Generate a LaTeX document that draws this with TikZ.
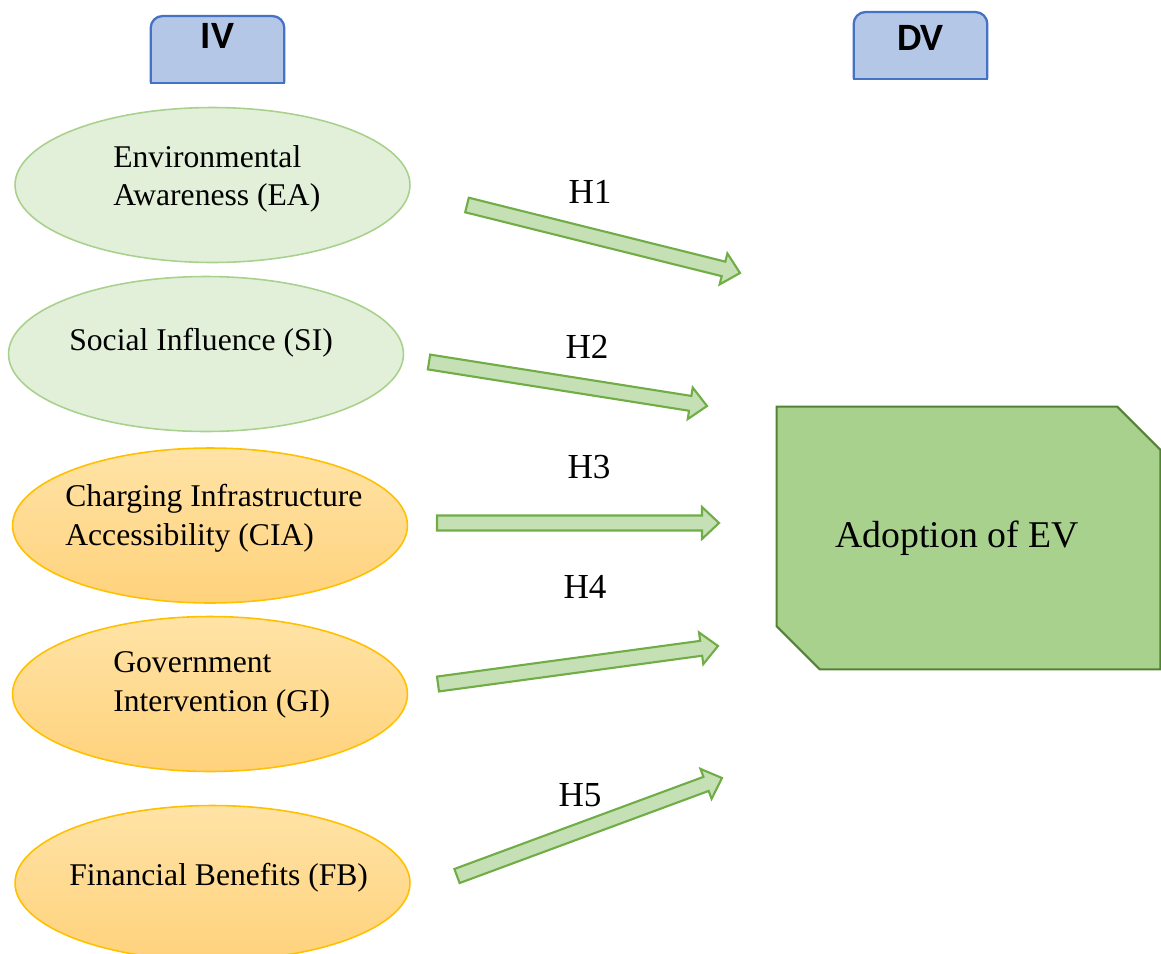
\documentclass[tikz,border=0pt]{standalone}
\usepackage{fontspec}
\setmainfont{Liberation Serif}
\newfontfamily\hdrfont{Carlito}
\usetikzlibrary{shapes.geometric,calc,backgrounds}

\definecolor{eafill}{HTML}{E2F0D9}
\definecolor{eadraw}{HTML}{A9D18E}
\definecolor{ortop}{HTML}{FFE3A6}
\definecolor{orbot}{HTML}{FFD27C}
\definecolor{ordraw}{HTML}{FFC000}
\definecolor{hdrfill}{HTML}{B4C7E7}
\definecolor{hdrdraw}{HTML}{4472C4}
\definecolor{dvfill}{HTML}{A9D18E}
\definecolor{dvdraw}{HTML}{548235}
\definecolor{arrfill}{HTML}{C5E0B4}
\definecolor{arrdraw}{HTML}{70AD47}

\tikzset{
  indep/.style={ellipse,minimum width=7.9cm,minimum height=3.1cm,inner sep=0pt,line width=0.9pt},
  greenvar/.style={indep,fill=eafill,draw=eadraw},
  orangevar/.style={indep,top color=ortop,bottom color=orbot,draw=ordraw},
  vartext/.style={anchor=west,align=left,inner sep=0pt,font=\fontsize{18}{22}\selectfont},
  hdr/.style={anchor=north,minimum width=2.66cm,inner ysep=0pt,font=\hdrfont\bfseries\fontsize{22}{22}\selectfont},
  hdrbox/.style={fill=hdrfill,draw=hdrdraw,line width=1.3pt},
  dvbox/.style={fill=dvfill,draw=dvdraw,line width=1.2pt},
  hypoarrow/.style={fill=arrfill,draw=arrdraw,line width=1.2pt},
  hyplabel/.style={inner sep=0pt,font=\fontsize{20}{20}\selectfont}
}

% hollow block arrow between two named coordinates
\newcommand{\hyparrow}[2]{%
  \coordinate (#1-base) at ($(#2)!0.34cm!(#1)$);
  \draw[hypoarrow] ($(#1)!0.15cm!90:(#2)$) -- ($(#1-base)!0.15cm!90:(#2)$)
    -- ($(#1-base)!0.32cm!90:(#2)$) -- (#2) -- ($(#1-base)!0.32cm!-90:(#2)$)
    -- ($(#1-base)!0.15cm!-90:(#2)$) -- ($(#1)!0.15cm!-90:(#2)$) -- cycle;}

\begin{document}
\begin{tikzpicture}[x=0.02cm,y=-0.02cm]
  \useasboundingbox (0,0) rectangle (1161,954);

  % headers
  \node[hdr,text height=0.64cm,text depth=0.68cm] (ivhdr) at (217.5,16) {IV};
  \node[hdr,text height=0.76cm,text depth=0.56cm] (dvhdr) at (920.5,12) {DV};

  % independent variables
  \node[greenvar] (ea) at (212.5,185) {};
  \node[greenvar] (si) at (206,354) {};
  \node[orangevar] (cia) at (210,525.5) {};
  \node[orangevar] (gi) at (210,694) {};
  \node[orangevar] (fb) at (212.5,883) {};

  \node[vartext] (ea-txt) at (113,179) {Environmental\\Awareness (EA)};
  \node[vartext] (si-txt) at (69,343) {Social Influence (SI)};
  \node[vartext] (cia-txt) at (65,518) {Charging Infrastructure\\Accessibility (CIA)};
  \node[vartext] (gi-txt) at (113,685) {Government\\Intervention (GI)};
  \node[vartext] (fb-txt) at (69,878) {Financial Benefits (FB)};

  % dependent variable
  \node[minimum width=7.66cm,minimum height=5.24cm,font=\fontsize{21.5}{21.5}\selectfont]
    (adopt) at (968.5,538) {Adoption of EV\hspace*{0.45cm}};

  \begin{scope}[on background layer]
    \foreach \h in {ivhdr,dvhdr}{
      \draw[hdrbox,rounded corners=0.24cm] (\h.south west) -- (\h.north west) -- (\h.north east) -- (\h.south east);
      \draw[hdrdraw,line width=1.3pt,line cap=rect] (\h.south west) -- (\h.south east);
    }
    \draw[dvbox] ($(adopt.north east)+(-43,0)$) -- ($(adopt.north east)+(0,43)$)
      -- (adopt.south east) -- ($(adopt.south west)+(43,0)$)
      -- ($(adopt.south west)+(0,-43)$) -- (adopt.north west) -- cycle;
  \end{scope}

  % hypotheses
  \foreach \n/\sx/\sy/\ex/\ey/\lx/\ly in {1/467/205/740/273/590/192,
      2/429/362/707/406/587/347, 3/437/523/719/523/589/467,
      4/438/684/718/646/585/587, 5/457/876/722/778/580/795}{
    \coordinate (h\n-s) at (\sx,\sy);
    \coordinate (h\n-e) at (\ex,\ey);
    \hyparrow{h\n-s}{h\n-e}
    \node[hyplabel] (h\n) at (\lx,\ly) {H\n};
  }
\end{tikzpicture}
\end{document}
